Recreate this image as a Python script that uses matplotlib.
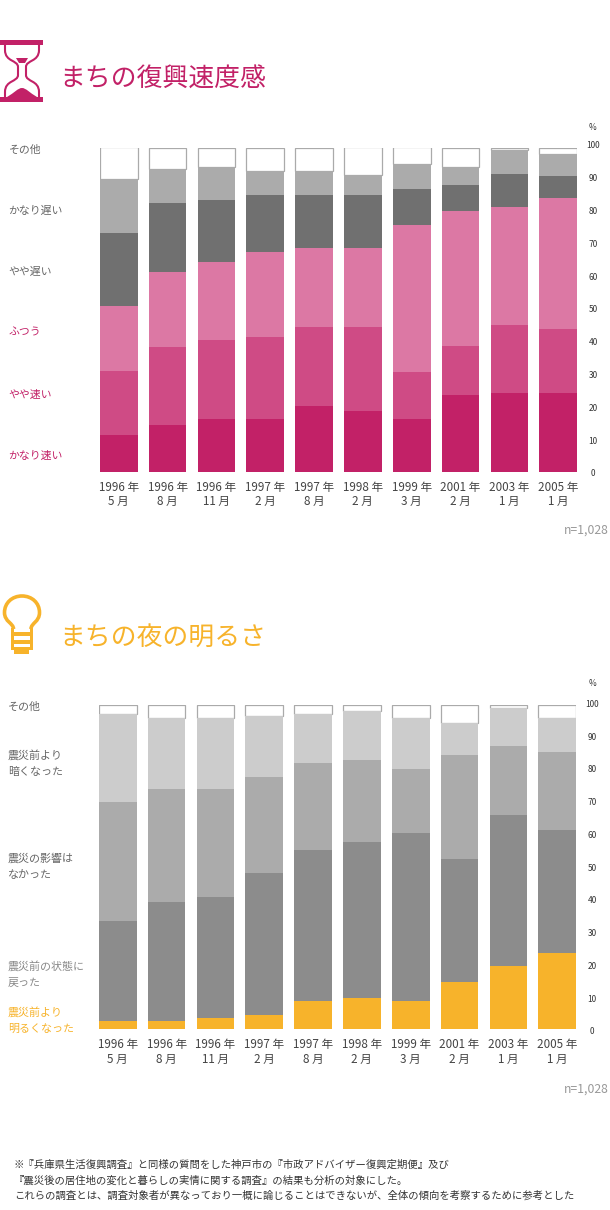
import matplotlib
matplotlib.use("Agg")
import matplotlib.pyplot as plt
from matplotlib.patches import Rectangle, PathPatch
from matplotlib.path import Path

plt.rcParams['font.family'] = ['Noto Sans CJK JP', 'DejaVu Sans']

W, H = 610, 1210
PINK = '#C22167'
ORANGE = '#F7B32B'

periods = ['1996 年\n5 月', '1996 年\n8 月', '1996 年\n11 月', '1997 年\n2 月', '1997 年\n8 月',
           '1998 年\n2 月', '1999 年\n3 月', '2001 年\n2 月', '2003 年\n1 月', '2005 年\n1 月']
pct_ticks = [0, 10, 20, 30, 40, 50, 60, 70, 80, 90, 100]

# Chart 1: sense of recovery speed (bottom to top)
speed_very_fast = [11.3, 14.4, 16.3, 16.3, 20.3, 18.7, 16.3, 23.6, 24.2, 24.2]
speed_fast = [19.7, 24.1, 24.2, 25.2, 24.4, 25.9, 14.5, 15.2, 21.1, 19.8]
speed_normal = [20.0, 23.0, 24.2, 26.2, 24.3, 24.4, 45.2, 41.7, 36.3, 40.3]
speed_slow = [22.5, 21.3, 19.0, 17.6, 16.3, 16.3, 11.2, 8.0, 10.2, 7.0]
speed_very_slow = [16.8, 10.6, 10.3, 7.4, 7.4, 6.3, 7.6, 5.5, 7.5, 6.6]
speed_other = [9.7, 6.6, 6.0, 7.3, 7.3, 8.4, 5.2, 6.0, 0.7, 2.1]

# Chart 2: brightness of the town at night (bottom to top)
night_brighter = [2.4, 2.4, 3.3, 4.1, 8.5, 9.4, 8.5, 14.4, 19.4, 23.4]
night_restored = [31.0, 36.7, 37.5, 44.0, 46.7, 48.4, 52.0, 38.1, 46.5, 38.0]
night_no_effect = [36.5, 34.8, 33.2, 29.8, 27.0, 25.3, 19.6, 32.1, 21.3, 24.2]
night_darker = [27.3, 22.1, 22.0, 18.7, 14.9, 14.9, 15.9, 9.7, 11.8, 10.4]
night_other = [2.8, 4.0, 4.0, 3.4, 2.9, 2.0, 4.0, 5.7, 1.0, 4.0]

fig = plt.figure(figsize=(W / 100, H / 100), dpi=100, facecolor='white')


def px_axes(x0, y_top, x1, y_bottom):
    return fig.add_axes([x0 / W, 1 - y_bottom / H, (x1 - x0) / W, (y_bottom - y_top) / H])


def stacked(box, series, colors, tick_box):
    ax = px_axes(*box)
    x = list(range(len(periods)))
    base = [0.0] * len(periods)
    for vals, c in zip(series, colors):
        if c == 'white':
            ax.bar(x, vals, 0.768, bottom=base, facecolor='white', edgecolor='#AAAAAA', linewidth=0.9, zorder=1)
        else:
            ax.bar(x, vals, 0.768, bottom=base, color=c, linewidth=0, zorder=2)
        base = [b + v for b, v in zip(base, vals)]
    ax.set_xlim(-0.384, 9.384)
    ax.set_ylim(0, 100)
    ax.set_yticks([])
    ax.set_xticks(x)
    ax.set_xticklabels(periods, fontsize=8.4, color='#444444', linespacing=1.12)
    ax.tick_params(axis='x', length=0, pad=7)
    for s in ax.spines.values():
        s.set_visible(False)
    # percent scale drawn on its own, slightly taller, as in the reference
    sc = px_axes(*tick_box)
    sc.patch.set_alpha(0)
    sc.set_ylim(0, 100)
    sc.set_xticks([])
    sc.yaxis.tick_right()
    sc.set_yticks(pct_ticks)
    sc.set_yticklabels([str(t) for t in pct_ticks], fontsize=6, color='#333333', ha='center')
    sc.tick_params(axis='y', length=0, pad=5)
    for s in sc.spines.values():
        s.set_visible(False)


stacked((100, 147.5, 577, 471.5),
        [speed_very_fast, speed_fast, speed_normal, speed_slow, speed_very_slow, speed_other],
        [PINK, '#CF4B85', '#DC78A4', '#707070', '#ABABAB', 'white'],
        (580, 145, 586, 473))
stacked((99, 705, 576, 1028.7),
        [night_brighter, night_restored, night_no_effect, night_darker, night_other],
        [ORANGE, '#8C8C8C', '#ABABAB', '#CCCCCC', 'white'],
        (579, 703.3, 585, 1031))

# Pixel overlay for headings, side labels and icons
ov = fig.add_axes([0, 0, 1, 1], zorder=5)
ov.set_xlim(0, W)
ov.set_ylim(H, 0)
ov.axis('off')
ov.patch.set_alpha(0)


def t(x, y, s, size, color, ha='left'):
    ov.text(x, y, s, fontsize=size, color=color, ha=ha, va='center')


t(59, 79, 'まちの復興速度感', 18.6, PINK)
t(59, 638.5, 'まちの夜の明るさ', 18.6, ORANGE)

for y, s, c in [(149.5, 'その他', '#666666'), (210.5, 'かなり遅い', '#666666'), (271.5, 'やや遅い', '#666666'),
                (332.5, 'ふつう', PINK), (394.5, 'やや速い', PINK), (455.5, 'かなり速い', PINK)]:
    t(8.5, y, s, 7.8, c)

for y, s, c in [(707, 'その他', '#666666'),
                (755, '震災前より', '#666666'), (772, '暗くなった', '#666666'),
                (858, '震災の影響は', '#666666'), (875, 'なかった', '#666666'),
                (966, '震災前の状態に', '#888888'), (983, '戻った', '#888888'),
                (1012, '震災前より', ORANGE), (1029, '明るくなった', ORANGE)]:
    t(8, y, s, 7.9, c)

t(592.5, 127.5, '%', 6, '#333333', ha='center')
t(592.5, 684, '%', 6, '#333333', ha='center')
t(609, 530.5, 'n=1,028', 8.8, '#999999', ha='right')
t(609, 1089.5, 'n=1,028', 8.8, '#999999', ha='right')

t(14, 1164.5, '※『兵庫県生活復興調査』と同様の質問をした神戸市の『市政アドバイザー復興定期便』及び', 7.45, '#333333')
t(14, 1181, '『震災後の居住地の変化と暮らしの実情に関する調査』の結果も分析の対象にした。', 7.45, '#333333')
t(14, 1196, 'これらの調査とは、調査対象者が異なっており一概に論じることはできないが、全体の傾向を考察するために参考とした', 7.45, '#333333')

# Hourglass icon
ov.add_patch(Rectangle((0, 40), 43, 5, color=PINK, lw=0))
ov.add_patch(Rectangle((0, 97), 43, 5, color=PINK, lw=0))
glass_codes = [Path.MOVETO, Path.LINETO, Path.CURVE4, Path.CURVE4, Path.CURVE4, Path.LINETO,
               Path.CURVE4, Path.CURVE4, Path.CURVE4, Path.LINETO]
for a, b in ((5, 18), (39, 26)):
    verts = [(a, 45), (a, 50), (a, 62), (b, 60), (b, 67), (b, 75), (b, 82), (a, 80), (a, 92), (a, 97)]
    ov.add_patch(PathPatch(Path(verts, glass_codes), fill=False, edgecolor=PINK, lw=1.5))
ov.add_patch(PathPatch(Path([(16, 58), (28, 58), (25, 63), (19, 63), (16, 58)]), facecolor=PINK, lw=0))
mound = Path([(7, 97), (14, 93), (18, 88), (22, 88), (26, 88), (30, 93), (37, 97), (7, 97)],
             [Path.MOVETO, Path.CURVE4, Path.CURVE4, Path.CURVE4, Path.CURVE4, Path.CURVE4, Path.CURVE4, Path.CLOSEPOLY])
ov.add_patch(PathPatch(mound, facecolor=PINK, lw=0))

# Light-bulb icon
ov.add_patch(PathPatch(Path([(13.5, 629), (13.5, 623), (4.5, 622), (4.5, 612.5), (4.5, 603), (12, 596), (22, 596),
                             (32, 596), (39.5, 603), (39.5, 612.5), (39.5, 622), (31, 623), (31, 629)],
                            [Path.MOVETO] + [Path.CURVE4] * 12),
                       fill=False, edgecolor=ORANGE, lw=2.6))
ov.add_patch(Rectangle((11, 628), 3, 22, color=ORANGE, lw=0))
ov.add_patch(Rectangle((30, 628), 3, 22, color=ORANGE, lw=0))
ov.add_patch(Rectangle((11, 632), 22, 4, color=ORANGE, lw=0))
ov.add_patch(Rectangle((11, 640), 22, 3.5, color=ORANGE, lw=0))
ov.add_patch(Rectangle((11, 646.5), 22, 3.5, color=ORANGE, lw=0))
ov.add_patch(Rectangle((14, 650), 15, 4, color=ORANGE, lw=0))

fig.savefig('out.png', dpi=100)
